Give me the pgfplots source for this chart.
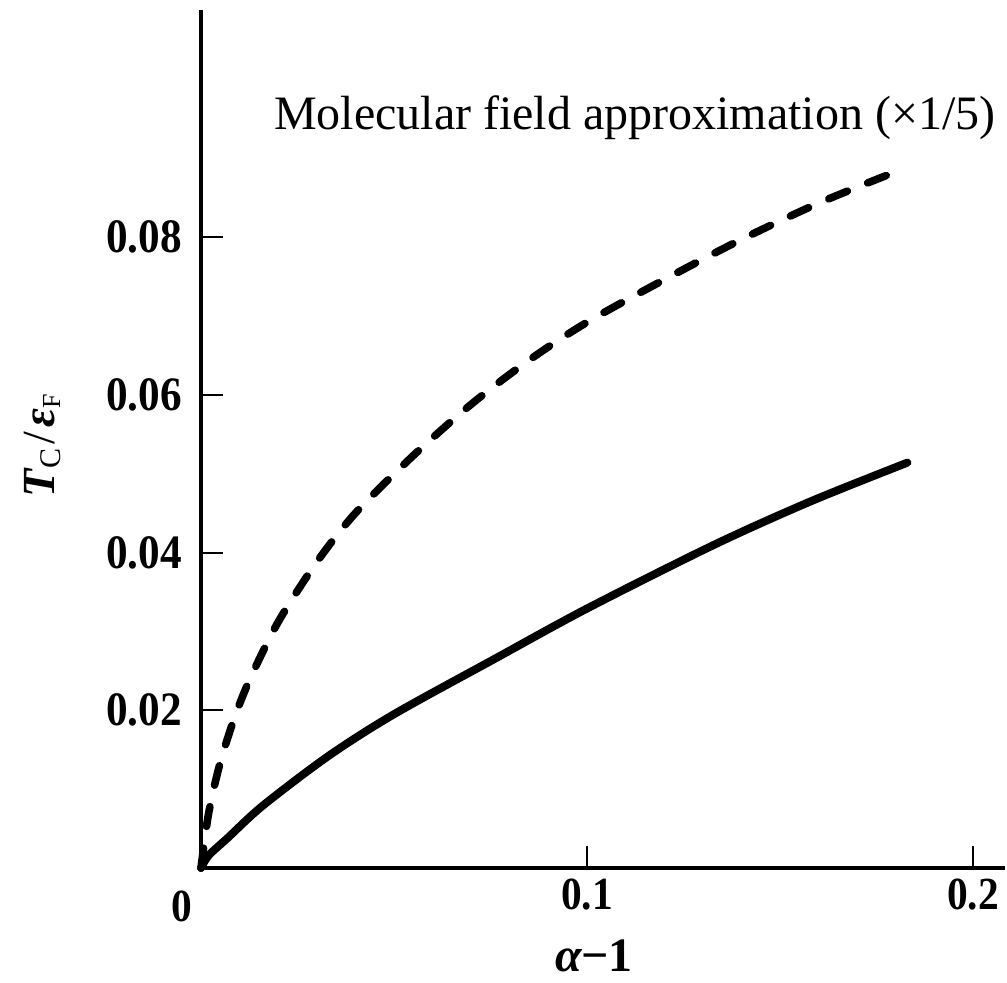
\documentclass[border=0pt]{standalone}
\usepackage{fontspec}
\setmainfont{Liberation Serif}
\usepackage{graphicx}
\usepackage{pgfplots}
\pgfplotsset{compat=1.18}

% Critical temperature vs. (alpha - 1)
\pgfplotstableread{
x       y
0       0
0.002   0.0016
0.007   0.00385
0.016   0.0079
0.033   0.0142
0.050   0.0195
0.076   0.0265
0.100   0.0329
0.133   0.0410
0.158   0.0465
0.183   0.0514
}\exacttc

% Molecular field result, scaled by 1/5
\pgfplotstableread{
x       y
0       0
0.002   0.0070
0.005   0.0134
0.009   0.0195
0.013   0.0243
0.020   0.0312
0.030   0.0388
0.040   0.0450
0.055   0.0523
0.070   0.0588
0.085   0.0644
0.100   0.0692
0.120   0.0746
0.140   0.0797
0.160   0.0843
0.178   0.0879
}\molfield

\newcommand{\tl}[1]{\scalebox{0.9}[1]{#1}}

\begin{document}
\begin{tikzpicture}
\path[use as bounding box] (0,0) rectangle (503.5pt,491pt);
\begin{axis}[
  at={(100.5pt,57pt)}, anchor=south west,
  scale only axis, width=402pt, height=429pt,
  xmin=0, xmax=0.2083, ymin=0, ymax=0.1088,
  axis x line=bottom, axis y line=left,
  axis line style={line width=1.75pt, -},
  clip=false,
  xtick={0.1,0.2}, xticklabels={\tl{0.1},\tl{0.2}},
  ytick={0.02,0.04,0.06,0.08},
  yticklabels={\tl{0.02},\tl{0.04},\tl{0.06},\tl{0.08}},
  tick align=inside, major tick length=11pt,
  tick style={line width=1pt, black},
  xticklabel style={font=\fontsize{23}{24}\selectfont\bfseries, anchor=north, yshift=-2pt},
  yticklabel style={font=\fontsize{24}{26}\selectfont\bfseries, anchor=east, xshift=-6pt},
  xlabel={{\bfseries\itshape α}{\bfseries−1}},
  xlabel style={at={([yshift=-44pt]rel axis cs:0.4888,0)}, anchor=center,
    font=\fontsize{24}{26}\selectfont},
  ylabel={{\bfseries\itshape T}\kern0.5pt\raisebox{-3pt}{\fontsize{15}{15}\selectfont C}\kern2pt/\kern2pt{\bfseries\itshape ε}\raisebox{-3pt}{\fontsize{13}{13}\selectfont F}},
  ylabel style={at={([xshift=-79.5pt]rel axis cs:0,0.492)}, anchor=center,
    font=\fontsize{23}{24}\selectfont},
]
\addplot[black, line width=4pt, smooth, tension=0.5, line cap=round, line join=round]
  table[x=x, y=y] {\exacttc};
\addplot[black, line width=3.8pt, smooth, tension=0.5, line cap=round, line join=round,
  dash pattern=on 10pt off 11pt]
  table[x=x, y=y] {\molfield};
\node[anchor=center, font=\fontsize{23}{24}\selectfont\bfseries]
  at ([xshift=-9.5pt,yshift=-19pt]axis cs:0,0) {\tl{0}};
\end{axis}
\node[anchor=base west, font=\fontsize{24}{26}\selectfont] at (133.5pt,426pt)
  {Molecular field approximation (×1/5)};
\end{tikzpicture}
\end{document}
